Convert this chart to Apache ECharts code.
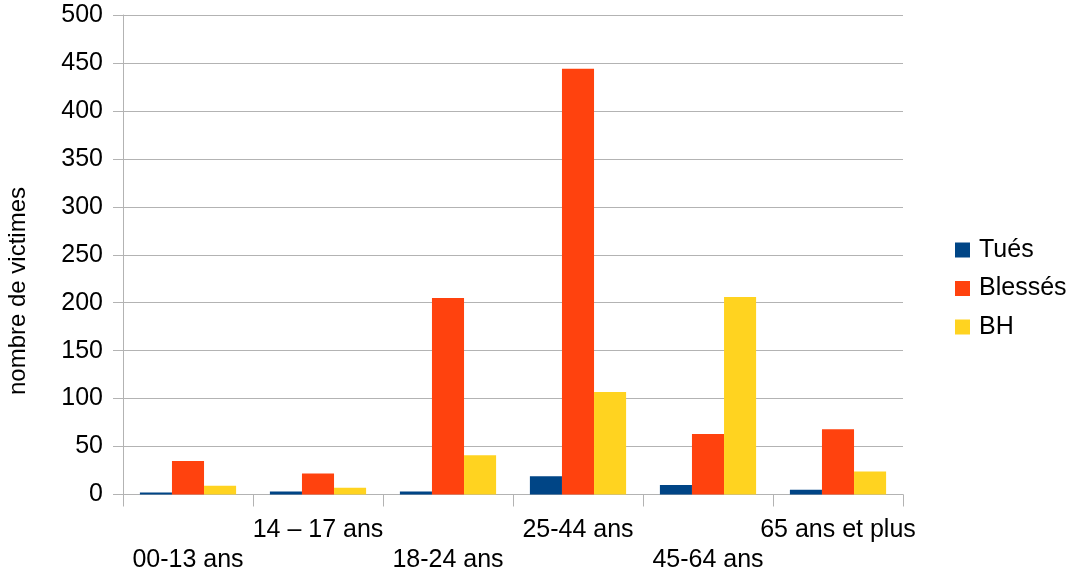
<!DOCTYPE html>
<html><head><meta charset="utf-8">
<script src="https://cdn.jsdelivr.net/npm/echarts@6/dist/echarts.min.js"></script>
<style>html,body{margin:0;padding:0;background:#fff}#c{width:1077px;height:576px}</style>
</head><body><div id="c"></div>
<script>
const categories = ['00-13 ans', '14 – 17 ans', '18-24 ans', '25-44 ans', '45-64 ans', '65 ans et plus'];
const tues = [2, 3, 3, 19, 10, 5];
const blesses = [35, 22, 205, 444, 63, 68];
const bh = [9, 7, 41, 107, 206, 24];
const yTicks = [0, 50, 100, 150, 200, 250, 300, 350, 400, 450, 500];

const font = 'Liberation Sans, Arial, sans-serif';
const chart = echarts.init(document.getElementById('c'), null, {renderer: 'canvas'});
chart.setOption({
  animation: false,
  backgroundColor: '#ffffff',
  textStyle: {fontFamily: font},
  grid: {left: 123, right: 174, top: 15, bottom: 81.5, containLabel: false},
  legend: {
    orient: 'vertical', left: 950, top: 232.5,
    itemWidth: 15, itemHeight: 15, itemGap: 13.5,
    icon: 'rect',
    textStyle: {fontSize: 25, lineHeight: 25, color: '#000', fontFamily: font, padding: [0, 0, 0, 4]},
    data: ['Tués', 'Blessés', 'BH']
  },
  xAxis: {
    type: 'category', data: categories,
    axisLine: {lineStyle: {color: '#b3b3b3', width: 1}},
    axisTick: {show: true, length: 12, lineStyle: {color: '#b3b3b3'}, alignWithLabel: false},
    axisLabel: {
      interval: 0, color: '#000', fontSize: 25, fontFamily: font, margin: 21, lineHeight: 30,
      formatter: (v, i) => (i % 2 === 0 ? '\n' + v : v)
    }
  },
  yAxis: {
    type: 'value', min: yTicks[0], max: yTicks[yTicks.length - 1], interval: 50,
    axisLine: {show: true, lineStyle: {color: '#b3b3b3'}},
    axisTick: {show: true, length: 10, lineStyle: {color: '#b3b3b3'}},
    axisLabel: {color: '#000', fontSize: 25, fontFamily: font, margin: 20},
    splitLine: {lineStyle: {color: '#b3b3b3', width: 1}}
  },
  graphic: [{
    type: 'text', x: 18, y: 291, rotation: Math.PI / 2,
    style: {text: 'nombre de victimes', fontSize: 24, fontFamily: font, fill: '#000', textAlign: 'center', textVerticalAlign: 'middle'}
  }],
  series: [
    {name: 'Tués', type: 'bar', data: tues, itemStyle: {color: '#004586'}, barGap: '0%', barCategoryGap: '26%'},
    {name: 'Blessés', type: 'bar', data: blesses, itemStyle: {color: '#ff420e'}, barGap: '0%', barCategoryGap: '26%'},
    {name: 'BH', type: 'bar', data: bh, itemStyle: {color: '#ffd320'}, barGap: '0%', barCategoryGap: '26%'}
  ]
});
</script></body></html>
